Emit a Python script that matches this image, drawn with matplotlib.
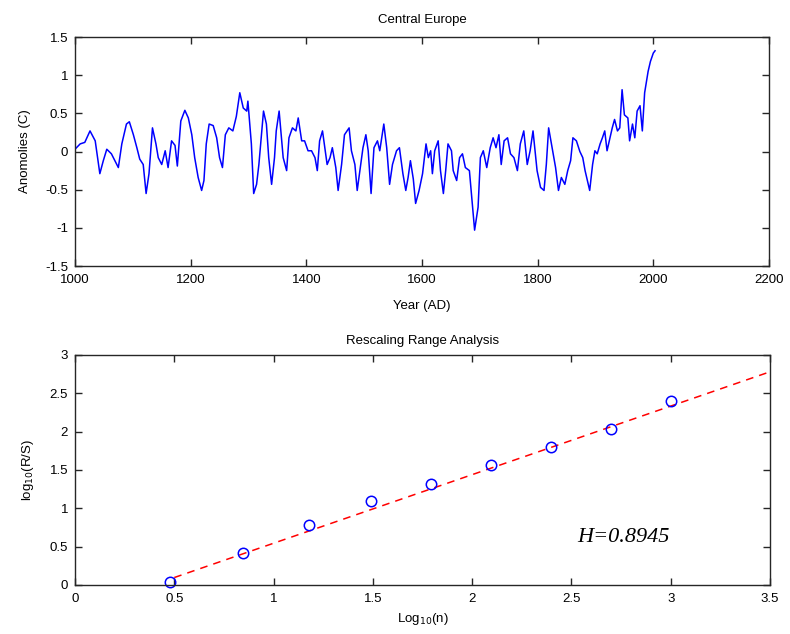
import matplotlib
matplotlib.use("Agg")
import matplotlib.pyplot as plt
import numpy as np

plt.rcParams['font.family'] = ['Liberation Sans', 'DejaVu Sans']

# Central Europe temperature anomalies (deg C) by year
years = [1000, 1009, 1017, 1026, 1035, 1043, 1049, 1055, 1063, 1075, 1081, 1089, 1094,
         1101, 1107, 1112, 1118, 1123, 1128, 1134, 1140, 1144, 1150, 1156, 1161, 1167,
         1173, 1177, 1183, 1190, 1196, 1202, 1207, 1213, 1219, 1223, 1227, 1232, 1239,
         1245, 1250, 1255, 1260, 1266, 1273, 1279, 1285, 1291, 1297, 1299, 1305, 1309,
         1314, 1318, 1322, 1326, 1331, 1335, 1340, 1345, 1348, 1353, 1357, 1360, 1366,
         1370, 1376, 1382, 1386, 1392, 1397, 1403, 1409, 1415, 1419, 1423, 1428, 1432,
         1436, 1441, 1445, 1451, 1455, 1461, 1466, 1474, 1478, 1484, 1488, 1492, 1498,
         1503, 1507, 1512, 1517, 1523, 1527, 1534, 1539, 1544, 1549, 1556, 1561, 1567,
         1572, 1576, 1580, 1585, 1589, 1595, 1601, 1607, 1611, 1615, 1618, 1622, 1628,
         1632, 1637, 1641, 1645, 1651, 1654, 1660, 1665, 1670, 1675, 1682, 1687, 1691,
         1697, 1701, 1706, 1712, 1718, 1723, 1728, 1733, 1737, 1742, 1748, 1753, 1759,
         1765, 1770, 1776, 1782, 1787, 1792, 1799, 1805, 1811, 1815, 1819, 1826, 1831,
         1836, 1841, 1847, 1852, 1857, 1861, 1867, 1873, 1878, 1882, 1886, 1890, 1895,
         1899, 1903, 1908, 1912, 1916, 1920, 1925, 1929, 1933, 1938, 1942, 1946, 1950,
         1956, 1959, 1964, 1968, 1972, 1977, 1981, 1985, 1991, 1995, 2000, 2003]
anomalies = [0.03, 0.10, 0.12, 0.27, 0.14, -0.29, -0.12, 0.03, -0.03, -0.21, 0.10, 0.36, 0.39,
             0.22, 0.05, -0.10, -0.17, -0.55, -0.29, 0.31, 0.10, -0.08, -0.17, 0.01, -0.21, 0.14,
             0.08, -0.19, 0.40, 0.54, 0.44, 0.22, -0.08, -0.34, -0.51, -0.38, 0.10, 0.36, 0.34,
             0.18, -0.08, -0.21, 0.22, 0.31, 0.27, 0.46, 0.77, 0.57, 0.53, 0.66, 0.10, -0.55,
             -0.43, -0.17, 0.18, 0.53, 0.36, -0.08, -0.43, -0.08, 0.27, 0.53, 0.18, -0.08, -0.25,
             0.18, 0.31, 0.27, 0.44, 0.14, 0.14, 0.01, 0.01, -0.08, -0.25, 0.14, 0.27, 0.05,
             -0.17, -0.08, 0.05, -0.21, -0.51, -0.17, 0.22, 0.31, 0.01, -0.17, -0.51, -0.29, 0.05,
             0.22, 0.01, -0.55, 0.05, 0.14, 0.01, 0.36, 0.05, -0.43, -0.17, 0.01, 0.05, -0.29,
             -0.51, -0.34, -0.12, -0.36, -0.68, -0.51, -0.29, 0.10, -0.08, 0.01, -0.29, 0.01, 0.14,
             -0.25, -0.55, -0.25, 0.10, 0.01, -0.25, -0.38, -0.08, -0.03, -0.21, -0.25, -0.68, -1.03,
             -0.73, -0.08, 0.01, -0.21, 0.05, 0.18, 0.05, 0.22, -0.17, 0.14, 0.18, -0.03, -0.08,
             -0.25, 0.10, 0.27, -0.17, 0.01, 0.27, -0.25, -0.47, -0.51, -0.17, 0.31, 0.01, -0.21,
             -0.51, -0.34, -0.43, -0.25, -0.12, 0.18, 0.14, 0.00, -0.08, -0.25, -0.38, -0.51, -0.17,
             0.01, -0.03, 0.10, 0.18, 0.27, 0.01, 0.18, 0.31, 0.42, 0.27, 0.31, 0.81, 0.48,
             0.44, 0.14, 0.36, 0.18, 0.53, 0.60, 0.27, 0.77, 1.05, 1.18, 1.29, 1.32]

# Rescaled range analysis results
log_n = [0.477, 0.845, 1.176, 1.491, 1.792, 2.097, 2.398, 2.699, 3.000]
log_rs = [0.04, 0.42, 0.78, 1.09, 1.32, 1.57, 1.80, 2.03, 2.40]

# Fitted line: slope is the Hurst exponent
H = 0.8945
intercept = -0.35
fit_x = [0.5, 3.5]

top_xticks = [1000, 1200, 1400, 1600, 1800, 2000, 2200]
top_yticks = [-1.5, -1, -0.5, 0, 0.5, 1, 1.5]
top_yticklabels = ['-1.5', '-1', '-0.5', '0', '0.5', '1', '1.5']
bot_xticks = [0, 0.5, 1, 1.5, 2, 2.5, 3, 3.5]
bot_xticklabels = ['0', '0.5', '1', '1.5', '2', '2.5', '3', '3.5']
bot_yticks = [0, 0.5, 1, 1.5, 2, 2.5, 3]
bot_yticklabels = ['0', '0.5', '1', '1.5', '2', '2.5', '3']

fig = plt.figure(figsize=(7.9, 6.34), dpi=100)
ax1 = fig.add_axes([0.0949, 0.5804, 0.8785, 0.3612])
ax2 = fig.add_axes([0.0949, 0.0773, 0.8798, 0.3628])

FS = 9.5
edge = '#262626'


def style(ax):
    for s in ax.spines.values():
        s.set_color(edge)
        s.set_linewidth(1.0)
    ax.tick_params(direction='in', length=5, width=1, color=edge, labelsize=FS,
                   top=True, right=True)
    ax.tick_params(axis='x', pad=6)
    ax.tick_params(axis='y', pad=5)


ax1.plot(years, anomalies, color='#0000ff', lw=1.1)
ax1.set_xlim(1000, 2200)
ax1.set_ylim(-1.5, 1.5)
ax1.set_xticks(top_xticks)
ax1.set_xticklabels([str(t) for t in top_xticks])
ax1.set_yticks(top_yticks)
ax1.set_yticklabels(top_yticklabels)
ax1.set_title('Central Europe', fontsize=FS, pad=10)
ax1.set_xlabel('Year (AD)', fontsize=FS, labelpad=10)
ax1.set_ylabel('Anomolies (C)', fontsize=FS, labelpad=10)
style(ax1)

fx = np.array(fit_x)
ax2.plot(fx, H * fx + intercept, color='#ff0000', lw=1.1, linestyle=(0, (5, 4)))
ax2.plot(log_n, log_rs, linestyle='none', marker='o', markersize=7.5,
         markerfacecolor='none', markeredgecolor='#0000ff', markeredgewidth=1.1,
         clip_on=False)
ax2.set_xlim(0, 3.5)
ax2.set_ylim(0, 3)
ax2.set_xticks(bot_xticks)
ax2.set_xticklabels(bot_xticklabels)
ax2.set_yticks(bot_yticks)
ax2.set_yticklabels(bot_yticklabels)
ax2.set_title('Rescaling Range Analysis', fontsize=FS, pad=8)
ax2.set_xlabel(r'Log$_{10}$(n)', fontsize=FS, labelpad=4)
ax2.set_ylabel(r'log$_{10}$(R/S)', fontsize=FS, labelpad=10)
style(ax2)
ax2.text(2.53, 0.62, f'H={H}', fontsize=16, fontstyle='italic',
         family=['Liberation Serif', 'DejaVu Serif'], va='center', ha='left')

fig.savefig('out.png', dpi=100)
